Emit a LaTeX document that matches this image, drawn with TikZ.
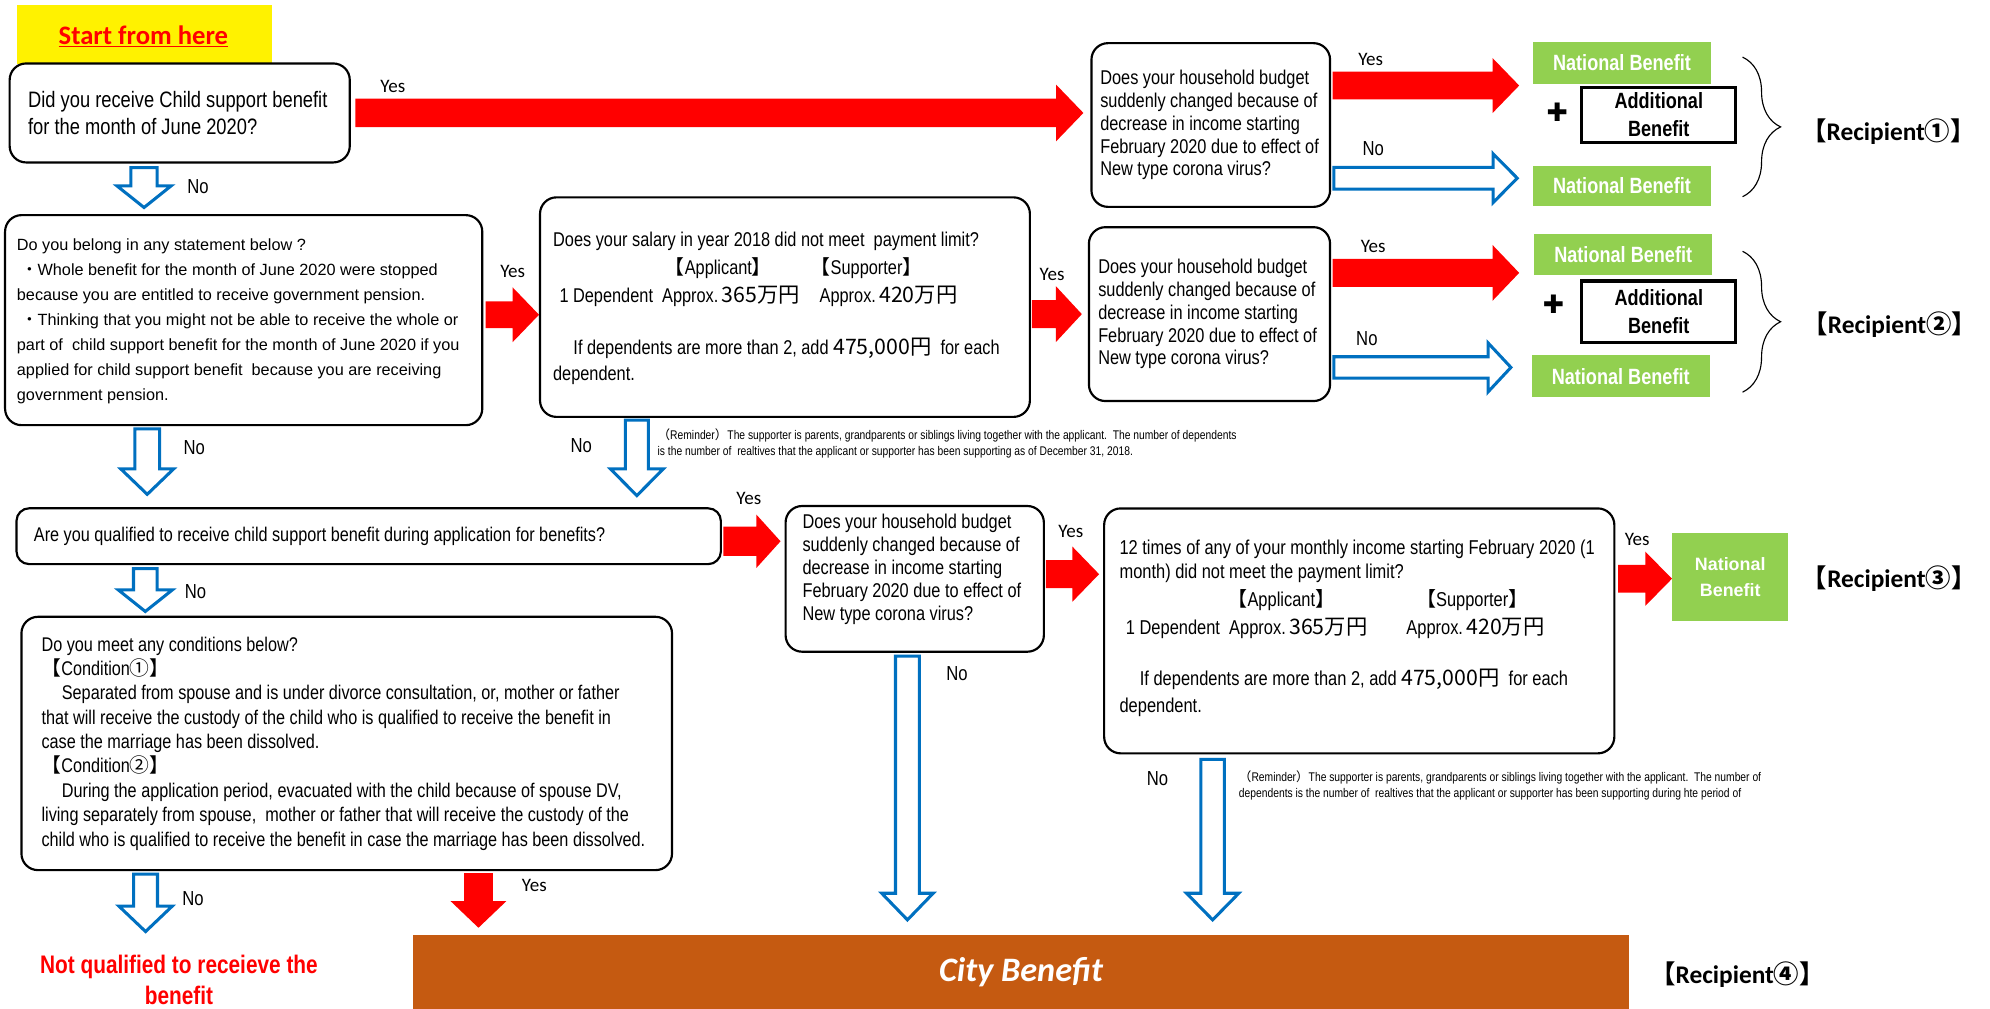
\documentclass[tikz,border=0pt]{standalone}
\usepackage{fontspec}
\setmainfont{Liberation Sans}[FakeStretch=0.82]
\newfontfamily\arialfont{Liberation Sans}
\newfontfamily\carlito{Carlito}
\newfontfamily\cjk{Noto Sans CJK JP}
\newfontfamily\dejavu{DejaVu Sans}
\usetikzlibrary{calc,decorations.pathreplacing}
\definecolor{natgreen}{HTML}{92D050}
\definecolor{cityorange}{HTML}{C55A11}
\definecolor{arrowblue}{HTML}{0070C0}
\newcommand\lbk{{\cjk 【}}
\newcommand\rbk{{\cjk 】}}
\newcommand\jp[1]{{\cjk #1}}
\newcommand\setfs[2]{\fontsize{#1}{#2}\selectfont}
% horizontal block arrow: style, from, to, shaft half, head half, head length
\newcommand\harr[6]{\path[#1] let \p1=(#2), \p2=(#3) in
  (\x1,{\y1+#4}) -- ({\x2-#6},{\y1+#4}) -- ({\x2-#6},{\y1+#5}) -- (\x2,\y1)
  -- ({\x2-#6},{\y1-#5}) -- ({\x2-#6},{\y1-#4}) -- (\x1,{\y1-#4}) -- cycle;}
% downward block arrow
\newcommand\varr[6]{\path[#1] let \p1=(#2), \p2=(#3) in
  ({\x1-#4},\y1) -- ({\x1-#4},{\y2+#6}) -- ({\x1-#5},{\y2+#6}) -- (\x1,\y2)
  -- ({\x1+#5},{\y2+#6}) -- ({\x1+#4},{\y2+#6}) -- ({\x1+#4},\y1) -- cycle;}
\begin{document}
\begin{tikzpicture}[x=1pt,y=-1pt,
  qbox/.style={draw=black, line width=1.7pt, rounded corners=13pt, fill=white, inner sep=0pt},
  qtext/.style={anchor=west, align=left, inner sep=0pt},
  natbox/.style={fill=natgreen, text=white, inner sep=0pt, font=\bfseries\setfs{17.4}{21}},
  addbox/.style={draw=black, line width=2.6pt, fill=white, inner sep=0pt, align=center, font=\bfseries\setfs{17.4}{22}},
  yeslbl/.style={font=\carlito\setfs{15}{18}, inner sep=0pt},
  nolbl/.style={font=\setfs{16}{18}, inner sep=0pt},
  recip/.style={font=\carlito\bfseries\setfs{20}{22}, inner sep=0pt},
  redarr/.style={fill=red},
  bluearr/.style={draw=arrowblue, line width=2.4pt, fill=white},
  bracestyle/.style={decorate, decoration={brace, amplitude=30pt}, line width=0.9pt},
  note/.style={anchor=west, align=left, inner sep=0pt, font=\setfs{9.9}{12.6}}]
\useasboundingbox (0,0) rectangle (1568,795);

% start label
\node[fill=yellow, minimum width=200.6pt, minimum height=46.7pt, inner sep=0pt] (start) at (113.7,27.35) {};
\node[font=\carlito\bfseries\setfs{21}{24}, text=red, inner sep=0pt] (startt) at (113,28.4) {\underline{Start from here}};

% question boxes
\node[qbox, minimum width=268pt, minimum height=78pt] (q1) at (141.6,89) {};
\node[qtext, font=\setfs{17.6}{21}] (q1t) at ([xshift=15.2pt]q1.west) {Did you receive Child support benefit\\for the month of June 2020?};

\node[qbox, minimum width=188pt, minimum height=129pt] (q1b) at (954,98.5) {};
\node[qtext, font=\setfs{15.7}{18}] (q1bt) at ([xshift=7.6pt]q1b.west) {Does your household budget\\suddenly changed because of\\decrease in income starting\\February 2020 due to effect of\\New type corona virus?};

\node[qbox, minimum width=376pt, minimum height=165.5pt] (q2) at (192,252.25) {};
\node[qtext, font=\arialfont\setfs{12.8}{19.7}] (q2t) at ([xshift=10pt,yshift=-1pt]q2.west) {Do you belong in any statement below ?\\
\hspace*{3.5pt}\jp{・}Whole benefit for the month of June 2020 were stopped\\
because you are entitled to receive government pension.\\
\hspace*{3.5pt}\jp{・}Thinking that you might not be able to receive the whole or\\
part of\ \ child support benefit for the month of June 2020 if you\\
applied for child support benefit\ \ because you are receiving\\
government pension.};

\node[qbox, minimum width=386pt, minimum height=173pt] (q3) at (618.5,242) {};
\node[qtext, font=\setfs{15.7}{22}] (q3t) at ([xshift=11pt,yshift=-1pt]q3.west) {Does your salary in year 2018 did not meet\ \ payment limit?\\
\hspace*{88pt}\makebox[115pt][l]{\lbk Applicant\rbk}\lbk Supporter\rbk\\
\hspace*{5pt}\makebox[205pt][l]{1 Dependent\ \ Approx.\,{\setfs{16.8}{22}\jp{365万円}}}Approx.\,{\setfs{16.8}{22}\jp{420万円}}\\[19pt]
\hspace*{16pt}If dependents are more than 2, add {\setfs{16.8}{22}\jp{475,000円}}\ \ for each\\[-1.5pt]
dependent.};

\node[qbox, minimum width=190pt, minimum height=137pt] (q3b) at (953,247.5) {};
\node[qtext, font=\setfs{15.7}{18}] (q3bt) at ([xshift=8pt]q3b.west) {Does your household budget\\suddenly changed because of\\decrease in income starting\\February 2020 due to effect of\\New type corona virus?};

\node[qbox, rounded corners=10pt, minimum width=555pt, minimum height=44pt] (q4) at (290.5,422.5) {};
\node[qtext, font=\setfs{15.6}{18}] (q4t) at ([xshift=14.4pt]q4.west) {Are you qualified to receive child support benefit during application for benefits?};

\node[qbox, minimum width=203.5pt, minimum height=114.8pt] (q4b) at (720.75,456.1) {};
\node[qtext, font=\setfs{15.7}{18}] (q4bt) at ([xshift=14pt,yshift=7.5pt]q4b.west) {Does your household budget\\suddenly changed because of\\decrease in income starting\\February 2020 due to effect of\\New type corona virus?};

\node[qbox, minimum width=402pt, minimum height=193pt] (q5) at (1071,497.1) {};
\node[qtext, font=\setfs{15.8}{22}] (q5t) at ([xshift=12.8pt,yshift=2pt]q5.west) {12 times of any of your monthly income starting February 2020 (1\\[-2.8pt]
month) did not meet the payment limit?\\
\hspace*{85pt}\makebox[148.6pt][l]{\lbk Applicant\rbk}\lbk Supporter\rbk\\
\hspace*{5pt}\makebox[221pt][l]{1 Dependent\ \ Approx.\,{\setfs{16.8}{22}\jp{365万円}}}Approx.\,{\setfs{16.8}{22}\jp{420万円}}\\[18pt]
\hspace*{16pt}If dependents are more than 2, add {\setfs{16.8}{22}\jp{475,000円}}\ \ for each\\
dependent.};

\node[qbox, minimum width=512.6pt, minimum height=199.6pt] (q6) at (273.2,585.8) {};
\node[qtext, font=\setfs{15.6}{19.2}] (q6t) at ([xshift=16.5pt]q6.west) {Do you meet any conditions below?\\
\lbk Condition\jp{①}\rbk\\
\hspace*{16pt}Separated from spouse and is under divorce consultation, or, mother or father\\
that will receive the custody of the child who is qualified to receive the benefit in\\
case the marriage has been dissolved.\\
\lbk Condition\jp{②}\rbk\\
\hspace*{16pt}During the application period, evacuated with the child because of spouse DV,\\
living separately from spouse,\ \ mother or father that will receive the custody of the\\
child who is qualified to receive the benefit in case the marriage has been dissolved.};

% reminders
\node[note] (rem1) at (518,349.1) {\jp{（}Reminder\jp{）}The supporter is parents, grandparents or siblings living together with the applicant.\ \ The number of dependents\\
is the number of\ \ realtives that the applicant or supporter has been supporting as of December 31, 2018.};
\node[note] (rem2) at (976,618.5) {\jp{（}Reminder\jp{）}The supporter is parents, grandparents or siblings living together with the applicant.\ \ The number of\\
dependents is the number of\ \ realtives that the applicant or supporter has been supporting during hte period of};

% results
\node[natbox, minimum width=140pt, minimum height=33pt] (nb1) at (1278,49.5) {National Benefit};
\node[addbox, minimum width=121.4pt, minimum height=43.4pt] (ab1) at (1307,90.5) {Additional\\Benefit};
\node[natbox, minimum width=140pt, minimum height=31.5pt] (nb2) at (1278,146.25) {National Benefit};
\node[natbox, minimum width=140pt, minimum height=33pt] (nb3) at (1279,200.5) {National Benefit};
\node[addbox, minimum width=121.4pt, minimum height=48.4pt] (ab2) at (1307,245.5) {Additional\\Benefit};
\node[natbox, minimum width=140pt, minimum height=33pt] (nb4) at (1277,296.5) {National Benefit};
\node[natbox, minimum width=91.4pt, minimum height=69pt, align=center, font=\arialfont\bfseries\setfs{14.1}{20.3}] (nb5) at (1363.3,454.5) {National\\Benefit};
\node[font=\dejavu\setfs{20}{20}, inner sep=0pt] (plus1) at (1227,88.5) {✚};
\node[font=\dejavu\setfs{20}{20}, inner sep=0pt] (plus2) at (1224,239.6) {✚};

\draw[bracestyle] (1373,45) -- (1373,155);
\draw[bracestyle] (1373,198) -- (1373,309);

\node[recip] (rc1) at (1488,104) {\lbk Recipient\jp{①}\rbk};
\node[recip] (rc2) at (1489,256) {\lbk Recipient\jp{②}\rbk};
\node[recip] (rc3) at (1488.5,455.6) {\lbk Recipient\jp{③}\rbk};
\node[recip] (rc4) at (1369,768.3) {\lbk Recipient\jp{④}\rbk};

\node[fill=cityorange, minimum width=958pt, minimum height=58.2pt, inner sep=0pt, text=white, font=\carlito\bfseries\itshape\setfs{27}{30}] (city) at (804.5,765.9) {City Benefit};

\node[font=\bfseries\setfs{20}{24.4}, text=red, align=center, inner sep=0pt] (notq) at (141,771.8) {Not qualified to receieve the\\benefit};

% arrow end coordinates
\coordinate (r1s) at ([xshift=3.5pt]q1.east);
\coordinate (r1e) at ([xshift=-5.5pt]q1b.west);
\coordinate (r2s) at (1050,67.4);   \coordinate (r2e) at (1197,67.4);
\coordinate (r3s) at (382.6,248);   \coordinate (r3e) at (424.7,248);
\coordinate (r4s) at (813,247.5);   \coordinate (r4e) at (852.4,247.5);
\coordinate (r5s) at (1050,215);    \coordinate (r5e) at (1197,215);
\coordinate (r6s) at (570,426.5);   \coordinate (r6e) at (615,426.5);
\coordinate (r7s) at (824,452.4);   \coordinate (r7e) at (866,452.4);
\coordinate (r8s) at (1275,456);    \coordinate (r8e) at (1317.4,456);
\coordinate (r9s) at (377,688);     \coordinate (r9e) at (377,731);
\coordinate (b1s) at (1051,140.4);  \coordinate (b1e) at (1195.5,140.4);
\coordinate (b2s) at (1051,289.5);  \coordinate (b2e) at (1190.5,289.5);
\coordinate (b3s) at (113.5,132);   \coordinate (b3e) at (113.5,163.5);
\coordinate (b4s) at (116,338);     \coordinate (b4e) at (116,389.5);
\coordinate (b5s) at (501.8,331);   \coordinate (b5e) at (501.8,390.5);
\coordinate (b6s) at (114.5,448);   \coordinate (b6e) at (114.5,481.8);
\coordinate (b7s) at (715,517);     \coordinate (b7e) at (715,724.8);
\coordinate (b8s) at (955.5,598.4); \coordinate (b8e) at (955.5,724.8);
\coordinate (b9s) at (114.7,688.7); \coordinate (b9e) at (114.7,734);

\harr{redarr}{r1s}{r1e}{11.2pt}{22.3pt}{21.5pt}
\harr{redarr}{r2s}{r2e}{10.9pt}{21.7pt}{21pt}
\harr{redarr}{r3s}{r3e}{10.5pt}{21.5pt}{20.7pt}
\harr{redarr}{r4s}{r4e}{11pt}{22pt}{20.4pt}
\harr{redarr}{r5s}{r5e}{11pt}{22pt}{21pt}
\harr{redarr}{r6s}{r6e}{11.5pt}{21pt}{19pt}
\harr{redarr}{r7s}{r7e}{11pt}{21.7pt}{21pt}
\harr{redarr}{r8s}{r8e}{11pt}{21.4pt}{21pt}
\varr{redarr}{r9s}{r9e}{11.3pt}{22pt}{21pt}

\harr{bluearr}{b1s}{b1e}{8.6pt}{19.2pt}{19pt}
\harr{bluearr}{b2s}{b2e}{8.4pt}{19.3pt}{18pt}
\varr{bluearr}{b3s}{b3e}{10.3pt}{21.3pt}{17pt}
\varr{bluearr}{b4s}{b4e}{9.8pt}{20.8pt}{20pt}
\varr{bluearr}{b5s}{b5e}{9pt}{20.8pt}{21pt}
\varr{bluearr}{b6s}{b6e}{9.3pt}{21.3pt}{17pt}
\varr{bluearr}{b7s}{b7e}{9.4pt}{20.3pt}{21pt}
\varr{bluearr}{b8s}{b8e}{9.3pt}{20.6pt}{21pt}
\varr{bluearr}{b9s}{b9e}{9.4pt}{21pt}{20pt}

% labels
\node[yeslbl] (y1) at (309.5,67.8) {Yes};
\node[yeslbl] (y2) at (1080,47) {Yes};
\node[yeslbl] (y3) at (404,214) {Yes};
\node[yeslbl] (y4) at (829,216) {Yes};
\node[yeslbl] (y5) at (1082,194) {Yes};
\node[yeslbl] (y6) at (590,393) {Yes};
\node[yeslbl] (y7) at (843.8,419) {Yes};
\node[yeslbl] (y8) at (1290,425) {Yes};
\node[yeslbl] (y9) at (421,698) {Yes};
\node[nolbl] (n1) at (156,147) {No};
\node[nolbl] (n2) at (1082,117) {No};
\node[nolbl] (n3) at (1077,267) {No};
\node[nolbl] (n4) at (153,353) {No};
\node[nolbl] (n5) at (458,351) {No};
\node[nolbl] (n6) at (154,466) {No};
\node[nolbl] (n7) at (754,530.6) {No};
\node[nolbl] (n8) at (912,613.3) {No};
\node[nolbl] (n9) at (152,708) {No};
\end{tikzpicture}
\end{document}
